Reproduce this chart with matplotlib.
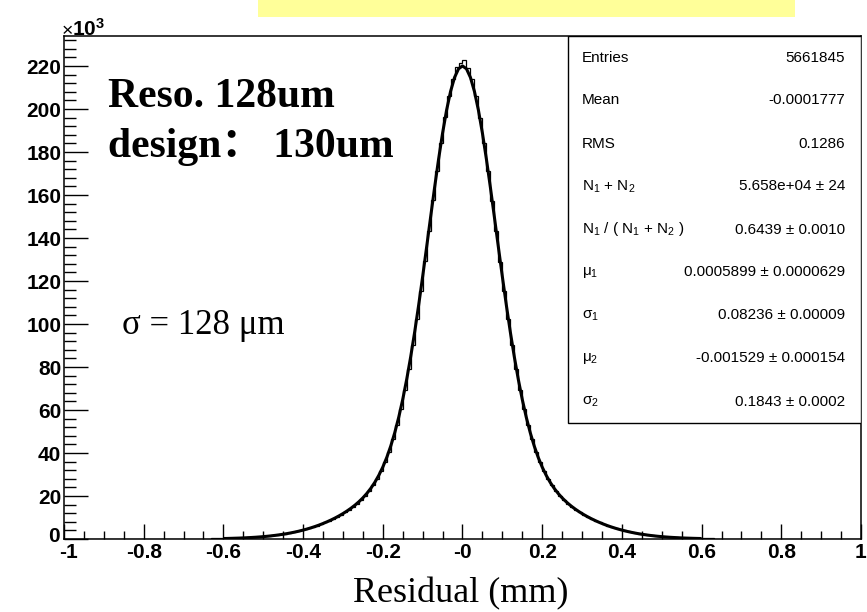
import matplotlib
matplotlib.use("Agg")
import matplotlib.pyplot as plt
import matplotlib.transforms as mtransforms
import numpy as np
from matplotlib import font_manager
from matplotlib.patches import Rectangle
from matplotlib.ticker import MultipleLocator

# =========================
# Data (counts in units of 10^3)
# =========================
BIN_LO, BIN_HI, N_BINS = -1.0, 1.0, 200

HIST_COUNTS = [
    # -1.00 .. -0.71
    0.02, 0.02, 0.02, 0.02, 0.02, 0.02, 0.02, 0.02, 0.02, 0.02,
    0.03, 0.03, 0.03, 0.03, 0.03, 0.03, 0.03, 0.03, 0.03,
    0.04, 0.04, 0.05, 0.05, 0.06, 0.06, 0.07, 0.08, 0.08, 0.09,
    # -0.71 .. -0.01
    0.10, 0.11, 0.12, 0.13, 0.15, 0.17, 0.19, 0.21, 0.24, 0.27,
    0.31, 0.35, 0.40, 0.46, 0.52, 0.59, 0.67, 0.77, 0.88, 1.0,
    1.15, 1.3, 1.5, 1.7, 1.9, 2.2, 2.5, 2.8, 3.2, 3.6,
    4.0, 4.5, 5.0, 5.6, 6.2, 6.9, 7.7, 8.5, 9.4, 10.3,
    11.3, 12.4, 13.6, 15.0, 16.5, 18.2, 20.2, 22.4, 25.0, 28.0,
    31.5, 35.8, 40.7, 46.4, 53.0, 60.7, 69.4, 79.3, 90.3, 102.4,
    115.4, 129.1, 143.4, 157.6, 171.4, 184.4, 196.2, 206.3, 214.2, 219.6,
    221.5,
    # 0.00 .. 1.00
    223.0, 219.3, 213.8, 205.9, 195.8, 184.1, 171.2, 157.4, 143.2, 129.0,
    115.3, 102.3, 90.2, 79.2, 69.3, 60.6, 52.9, 46.3, 40.6, 35.7,
    31.5, 28.0, 25.0, 22.4, 20.2, 18.2, 16.5, 15.0, 13.6, 12.4,
    11.3, 10.3, 9.3, 8.5, 7.7, 6.9, 6.2, 5.6, 5.0, 4.5,
    4.0, 3.6, 3.2, 2.8, 2.5, 2.2, 1.9, 1.7, 1.5, 1.3,
    1.15, 1.0, 0.88, 0.77, 0.67, 0.59, 0.52, 0.46, 0.40, 0.35,
    0.31, 0.27, 0.24, 0.21, 0.19, 0.17, 0.15, 0.13, 0.12, 0.11,
    0.10, 0.09, 0.08, 0.08, 0.07, 0.06, 0.06, 0.05, 0.05, 0.04,
    0.04, 0.03, 0.03, 0.03, 0.03, 0.03, 0.03, 0.03, 0.03, 0.03,
    0.02, 0.02, 0.02, 0.02, 0.02, 0.02, 0.02, 0.02, 0.02, 0.02,
]

# fitted double gaussian, sampled every 0.01 in [-0.6, 0.6]
FIT_LO, FIT_HI, N_FIT = -0.6, 0.6, 121
FIT_VALUES = [
    0.22, 0.26, 0.31, 0.37, 0.43, 0.51, 0.60, 0.70, 0.81, 0.95,
    1.10, 1.27, 1.47, 1.69, 1.94, 2.21, 2.52, 2.87, 3.25, 3.67,
    4.14, 4.65, 5.21, 5.82, 6.48, 7.21, 7.99, 8.84, 9.75, 10.75,
    11.82, 13.01, 14.30, 15.73, 17.33, 19.14, 21.21, 23.59, 26.37, 29.63,
    33.45, 37.96, 43.27, 49.46, 56.66, 64.92, 74.29, 84.78, 96.32, 108.82,
    122.08, 135.84, 149.79, 163.54, 176.69, 188.80, 199.44, 208.18, 214.69, 218.72,
    220.08,
    218.72, 214.69, 208.18, 199.44, 188.80, 176.69, 163.54, 149.79, 135.84, 122.08,
    108.82, 96.32, 84.78, 74.29, 64.92, 56.66, 49.46, 43.27, 37.96, 33.45,
    29.63, 26.37, 23.59, 21.21, 19.14, 17.33, 15.73, 14.30, 13.01, 11.82,
    10.75, 9.75, 8.84, 7.99, 7.21, 6.48, 5.82, 5.21, 4.65, 4.14,
    3.67, 3.25, 2.87, 2.52, 2.21, 1.94, 1.69, 1.47, 1.27, 1.10,
    0.95, 0.81, 0.70, 0.60, 0.51, 0.43, 0.37, 0.31, 0.26, 0.22,
]

X_TICKS = [-1, -0.8, -0.6, -0.4, -0.2, 0, 0.2, 0.4, 0.6, 0.8, 1]
X_TICK_LABELS = ["-1", "-0.8", "-0.6", "-0.4", "-0.2", "-0",
                 "0.2", "0.4", "0.6", "0.8", "1"]
Y_TICKS = list(range(0, 221, 20))
Y_TICK_LABELS = [str(v) for v in Y_TICKS]

STAT_NAMES = [
    "Entries", "Mean", "RMS",
    "N$_1$ + N$_2$", "N$_1$ / ( N$_1$ + N$_2$ )",
    "\u03bc$_1$", "\u03c3$_1$", "\u03bc$_2$", "\u03c3$_2$",
]
STAT_VALUES = [
    "5661845", "-0.0001777", "0.1286",
    "5.658e+04 \u00b1 24", "0.6439 \u00b1 0.0010",
    "0.0005899 \u00b1 0.0000629", "0.08236 \u00b1 0.00009",
    "-0.001529 \u00b1 0.000154", "0.1843 \u00b1 0.0002",
]

# =========================
# Style
# =========================
W, H = 867, 612
installed = {f.name for f in font_manager.fontManager.ttflist}
SANS = "Liberation Sans Narrow" if "Liberation Sans Narrow" in installed else "Liberation Sans"

plt.rcParams["font.family"] = ["Liberation Sans", "DejaVu Sans"]
plt.rcParams["mathtext.fontset"] = "custom"
plt.rcParams["mathtext.rm"] = "Liberation Sans"
plt.rcParams["mathtext.it"] = "Liberation Sans:italic"
plt.rcParams["mathtext.bf"] = "Liberation Sans:bold"


def fx(px):
    return px / W


def fy(py):
    return 1 - py / H


fig = plt.figure(figsize=(W / 100, H / 100), dpi=100)
ax = fig.add_axes([fx(64), fy(539), 797 / W, 503 / H])

edges = np.linspace(BIN_LO, BIN_HI, N_BINS + 1)
ax.stairs(HIST_COUNTS, edges, color="black", lw=0.9)
fit_x = np.linspace(FIT_LO, FIT_HI, N_FIT)
ax.plot(fit_x, FIT_VALUES, color="black", lw=2.2, solid_capstyle="butt")

ax.set_xlim(-1, 1)
ax.set_ylim(0, 234)
ax.set_xticks(X_TICKS)
ax.set_xticklabels(X_TICK_LABELS)
ax.set_yticks(Y_TICKS)
ax.set_yticklabels(Y_TICK_LABELS)
ax.xaxis.set_minor_locator(MultipleLocator(0.05))
ax.yaxis.set_minor_locator(MultipleLocator(4))

ax.tick_params(which="both", direction="in", top=False, right=False, width=1)
ax.tick_params(axis="y", which="major", length=17, pad=2)
ax.tick_params(axis="y", which="minor", length=8.5)
ax.tick_params(axis="x", which="major", length=11, pad=3)
ax.tick_params(axis="x", which="minor", length=5.5)
for lab in ax.get_xticklabels() + ax.get_yticklabels():
    lab.set_family(SANS)
    lab.set_fontweight("bold")
    lab.set_fontsize(15)

# the corner labels "0" and "-1" sit close together, nudge them apart a bit
zero_lab = ax.get_yticklabels()[0]
zero_lab.set_transform(zero_lab.get_transform() +
                       mtransforms.ScaledTranslation(-1 / 72, 3 / 72, fig.dpi_scale_trans))
minus_one = ax.get_xticklabels()[0]
minus_one.set_transform(minus_one.get_transform() +
                        mtransforms.ScaledTranslation(3 / 72, 0, fig.dpi_scale_trans))

for sp in ax.spines.values():
    sp.set_linewidth(1.1)

# stats box
ax.add_patch(Rectangle((0.632, 0.2306), 0.368, 0.7694, transform=ax.transAxes,
                       facecolor="white", edgecolor="black", lw=1, zorder=5))
for i, (name, val) in enumerate(zip(STAT_NAMES, STAT_VALUES)):
    y = fy(57.5 + 43 * i)
    fig.text(fx(582), y, name, fontsize=11, ha="left", va="center", zorder=6)
    fig.text(fx(845), y, val, fontsize=11, ha="right", va="center", zorder=6)

# annotations
fig.text(fx(108), fy(107), "Reso. 128um", family="Liberation Serif",
         fontweight="bold", fontsize=30, va="baseline")
fig.text(fx(108), fy(157), "design\uff1a 130um",
         family=["Liberation Serif", "Noto Sans CJK SC"],
         fontweight="bold", fontsize=30, va="baseline")
fig.text(fx(122), fy(334), "\u03c3 = 128 \u03bcm", family="Liberation Serif",
         fontsize=25, va="baseline")
fig.text(fx(461), fy(602), "Residual (mm)", family="Liberation Serif",
         fontsize=26, ha="center", va="baseline")

# exponent
fig.text(fx(62), fy(36), "\u00d7", fontsize=14, va="baseline")
fig.text(fx(72), fy(36), r"$\mathbf{10^{3}}$", fontsize=15, va="baseline")

# yellow banner on top
fig.patches.append(Rectangle((fx(258), fy(17)), (795 - 258) / W, 17 / H,
                             transform=fig.transFigure, facecolor="#ffff99",
                             edgecolor="none"))

fig.savefig("out.png", dpi=100)
